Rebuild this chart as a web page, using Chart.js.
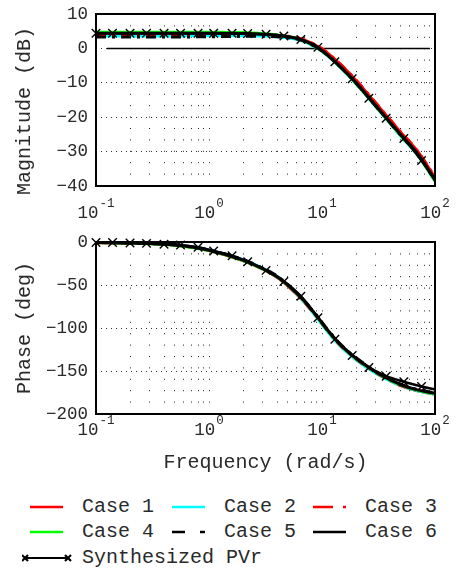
<!DOCTYPE html>
<html>
<head>
<meta charset="utf-8">
<script src="https://cdn.jsdelivr.net/npm/chart.js@4.4.1/dist/chart.umd.min.js"></script>
<style>
    body { margin: 0; background: #fff; width: 456px; height: 570px; overflow: hidden; position: relative; font-family: "Liberation Mono", monospace; }
    canvas { position: absolute; left: 0; }
    #mag { top: 0; }
    #phase { top: 228px; }
    .lg { position: absolute; height: 20px; font-size: 20px; line-height: 20px; color: #2a2a2a; white-space: pre; }
    .lg svg { position: absolute; left: 0; top: 0; }
    .lg span { position: absolute; top: 0; }
</style>
</head>
<body>
<canvas id="mag" width="456" height="228"></canvas>
<canvas id="phase" width="456" height="252"></canvas>
<div id="legend"></div>
<script>
// frequencies (rad/s) the six cases were read at
const caseFreq = [0.1, 0.2, 0.5, 1, 2, 3, 4, 5, 6, 7, 8, 9, 10, 12, 15, 20, 30, 40, 50, 70, 100];

// magnitude (dB)
const magCase1 = [3.9, 3.9, 3.9, 4.0, 4.0, 3.9, 3.7, 3.4, 3.0, 2.4, 1.6, 0.7, -0.2, -2.2, -5.1, -9.3, -16.0, -20.8, -24.5, -29.9, -37.5];
const magCase2 = [3.6, 3.6, 3.6, 3.7, 3.7, 3.6, 3.4, 3.0, 2.6, 2.0, 1.1, 0.1, -0.9, -3.0, -6.0, -10.3, -17.0, -21.8, -25.6, -31.0, -38.6];
const magCase3 = [4.0, 4.0, 4.0, 4.1, 4.1, 4.0, 3.8, 3.5, 3.1, 2.5, 1.7, 0.8, -0.1, -2.1, -5.0, -9.2, -15.9, -20.7, -24.4, -29.8, -37.4];
const magCase4 = [4.7, 4.7, 4.7, 4.7, 4.6, 4.3, 3.9, 3.4, 2.9, 2.1, 1.2, 0.2, -0.8, -2.9, -5.9, -10.2, -16.9, -21.7, -25.5, -30.9, -38.5];
const magCase5 = [3.3, 3.3, 3.3, 3.4, 3.5, 3.5, 3.4, 3.1, 2.7, 2.1, 1.2, 0.3, -0.7, -2.8, -5.8, -10.1, -16.8, -21.6, -25.3, -30.7, -38.3];
const magCase6 = [4.4, 4.4, 4.4, 4.4, 4.3, 4.1, 3.8, 3.4, 2.9, 2.2, 1.3, 0.3, -0.7, -2.8, -5.8, -10.0, -16.7, -21.5, -25.2, -30.6, -38.2];

// phase (deg)
const phaseCase1 = [-0.6, -1.2, -3.6, -9.8, -21.5, -31.5, -41, -51, -61, -70, -79, -87, -95, -108, -122, -136, -152, -161, -167, -173, -177];
const phaseCase2 = [-0.5, -1.1, -3.3, -9.2, -20.5, -30.5, -40, -50, -60.5, -70, -79.5, -88, -96, -109, -123, -137, -153, -161.5, -167, -173, -177];
const phaseCase3 = [-0.6, -1.2, -3.6, -9.8, -21.5, -31.5, -41, -51, -61, -70, -79, -87, -95, -108, -122, -136, -152, -161, -167, -172.5, -176.5];
const phaseCase4 = [-0.6, -1.3, -3.7, -10, -21.5, -31.5, -40.5, -50.5, -60, -69, -78, -86.5, -94.5, -107.5, -121.5, -135.5, -151.5, -160.5, -166.5, -172.5, -176.5];
const phaseCase5 = [-0.5, -1.1, -3.3, -9.2, -20.5, -30.5, -39.5, -49.5, -59.5, -68.5, -77.5, -85.5, -93.5, -106.5, -120.5, -134.5, -150.5, -159.5, -165.5, -171.5, -175.5];
const phaseCase6 = [-0.6, -1.2, -3.5, -9.5, -21, -31, -40, -50, -60, -69, -78, -86, -94, -107, -121, -135, -151, -160, -166, -172, -176];

// synthesized PVr (marker at every point but the last)
const synthFreq = [0.1, 0.14, 0.2, 0.28, 0.4, 0.56, 0.8, 1.1, 1.6, 2.2, 3.2, 4.6, 6.5, 9.2, 13, 18.5, 26, 37, 53, 76, 100];
const synthMag = [4.4, 4.4, 4.4, 4.4, 4.4, 4.4, 4.4, 4.4, 4.4, 4.3, 4.1, 3.6, 2.6, 0.3, -3.9, -8.8, -14.5, -20.3, -26.2, -32.6, -38.3];
const synthPhase = [-0.5, -0.7, -1.1, -1.6, -2.5, -3.6, -6, -10.5, -16, -23, -33, -46, -63, -88, -113, -132, -146, -156, -162.5, -168, -171.5];

// 0 dB reference line
const zeroLineFreq = [0.125, 90];
const zeroLineMag = [0, 0];

const caseLabels = ["Case 1", "Case 2", "Case 3", "Case 4", "Case 5", "Case 6"];
const synthLabel = "Synthesized PVr";
const decadePowers = [-1, 0, 1, 2];

const caseColors = ["#ff0000", "#00ffff", "#ff0000", "#00ff00", "#000000", "#000000"];
const caseDashes = [[], [], [10, 6, 3, 6], [], [10, 6, 3, 6], []];
const fontName = "'Liberation Mono', monospace";
const textColor = "#2a2a2a";

// log grid: 1..9 x 10^n
const gridFreq = [];
for (let p = -1; p < 2; p++) {
    for (let m = 1; m < 10; m++) gridFreq.push(m * Math.pow(10, p));
}
gridFreq.push(100);

function toPoints(xs, ys) {
    return xs.map(function (x, i) { return { x: x, y: ys[i] }; });
}

function caseSets(series) {
    return series.map(function (ys, i) {
        return {
            label: caseLabels[i],
            data: toPoints(caseFreq, ys),
            borderColor: caseColors[i],
            borderDash: caseDashes[i],
            borderWidth: 3,
            pointRadius: 0,
            cubicInterpolationMode: "monotone",
            order: 6 - i,
        };
    });
}

function synthSet(ys) {
    return {
        label: synthLabel,
        data: toPoints(synthFreq, ys),
        borderColor: "#000",
        borderWidth: 2.5,
        pointStyle: "crossRot",
        pointRadius: synthFreq.map(function (f, i) { return i < synthFreq.length - 1 ? 6 : 0; }),
        pointBorderWidth: 1.4,
        pointBorderColor: "#000",
        cubicInterpolationMode: "monotone",
        clip: 10,
        order: 0,
    };
}

// frame, tick labels and axis titles
const bodeText = {
    id: "bodeText",
    afterDraw(chart, args, opts) {
        const ctx = chart.ctx;
        const area = chart.chartArea;
        const xScale = chart.scales.x;
        const yScale = chart.scales.y;
        ctx.save();
        ctx.strokeStyle = "#000";
        ctx.lineWidth = 2;
        ctx.strokeRect(area.left, area.top, area.right - area.left, area.bottom - area.top);

        ctx.fillStyle = textColor;
        ctx.textBaseline = "middle";

        ctx.font = "17.5px " + fontName;
        ctx.textAlign = "right";
        yScale.ticks.forEach(function (t) {
            const py = yScale.getPixelForValue(t.value);
            ctx.fillText(String(t.value).replace("-", "\u2212"), area.left - 8, py);
        });

        ctx.textAlign = "left";
        decadePowers.forEach(function (p) {
            const px = xScale.getPixelForValue(Math.pow(10, p));
            const exp = String(p);
            ctx.font = "17.5px " + fontName;
            const baseW = ctx.measureText("10").width;
            ctx.font = "12.5px " + fontName;
            const expW = ctx.measureText(exp).width;
            const x0 = px - (baseW + 1 + expW) / 2;
            ctx.font = "17.5px " + fontName;
            ctx.fillText("10", x0, opts.tickY);
            ctx.font = "12.5px " + fontName;
            ctx.fillText(exp, x0 + baseW + 1, opts.tickY - 9);
        });

        ctx.font = "20px " + fontName;
        ctx.textAlign = "center";
        ctx.save();
        ctx.translate(opts.yTitleX, opts.yTitleY);
        ctx.rotate(-Math.PI / 2);
        ctx.fillText(opts.yTitle, 0, 0);
        ctx.restore();
        if (opts.xTitle) {
            ctx.fillText(opts.xTitle, (area.left + area.right) / 2, opts.xTitleY);
        }
        ctx.restore();
    },
};

function makeBode(id, datasets, yMin, yMax, yStep, xHeight, text) {
    const ctx = document.getElementById(id).getContext("2d");
    return new Chart(ctx, {
        type: "line",
        data: { datasets: datasets },
        plugins: [bodeText],
        options: {
            responsive: false,
            animation: false,
            layout: { autoPadding: false, padding: { top: 14, right: 21, left: 0, bottom: 0 } },
            plugins: {
                legend: { display: false },
                tooltip: { enabled: false },
                bodeText: text,
            },
            scales: {
                x: {
                    type: "logarithmic",
                    min: 0.1,
                    max: 100,
                    afterBuildTicks: function (scale) {
                        scale.ticks = gridFreq.map(function (v) { return { value: v }; });
                    },
                    afterFit: function (scale) { scale.height = xHeight; },
                    ticks: { display: false },
                    grid: { color: "#222", lineWidth: 1, drawTicks: false },
                    border: { display: false, dash: [1, 10.4] },
                },
                y: {
                    min: yMin,
                    max: yMax,
                    afterFit: function (scale) { scale.width = 96; },
                    ticks: { stepSize: yStep, display: false },
                    grid: { color: "#333", lineWidth: 1, drawTicks: false },
                    border: { display: false, dash: [1, 4] },
                },
            },
        },
    });
}

document.addEventListener("DOMContentLoaded", function () {
    const magSets = caseSets([magCase1, magCase2, magCase3, magCase4, magCase5, magCase6]);
    magSets.push(synthSet(synthMag));
    magSets.push({
        label: "0 dB",
        data: toPoints(zeroLineFreq, zeroLineMag),
        borderColor: "#000",
        borderWidth: 1.5,
        pointRadius: 0,
        order: 7,
    });
    makeBode("mag", magSets, -40, 10, 10, 42, {
        yTitle: "Magnitude (dB)", yTitleX: 25, yTitleY: 111, tickY: 213,
    });

    const phaseSets = caseSets([phaseCase1, phaseCase2, phaseCase3, phaseCase4, phaseCase5, phaseCase6]);
    phaseSets.push(synthSet(synthPhase));
    makeBode("phase", phaseSets, -200, 0, 50, 66, {
        yTitle: "Phase (deg)", yTitleX: 25, yTitleY: 100, tickY: 202,
        xTitle: "Frequency (rad/s)", xTitleY: 235,
    });

    // legend, 3 columns x 2 rows + synthesized row
    const legend = document.getElementById("legend");
    const colX = [30, 172, 313];
    const rowY = [507, 532];
    const sampleDash = ["", "", "20 10 5 100", "", "13 15 5 100", ""];
    caseLabels.forEach(function (label, i) {
        const div = document.createElement("div");
        div.className = "lg";
        div.style.left = colX[i % 3] + "px";
        div.style.top = (rowY[Math.floor(i / 3)] - 10) + "px";
        div.innerHTML =
            '<svg width="36" height="20"><line x1="0" y1="10" x2="33" y2="10" stroke="' + caseColors[i] +
            '" stroke-width="2.6" stroke-dasharray="' + sampleDash[i] + '"/></svg>' +
            '<span style="left:52px">' + label + "</span>";
        legend.appendChild(div);
    });
    const syn = document.createElement("div");
    syn.className = "lg";
    syn.style.left = "22px";
    syn.style.top = "548px";
    syn.innerHTML =
        '<svg width="52" height="20"><g stroke="#000" stroke-width="2.2">' +
        '<line x1="3" y1="10" x2="46" y2="10"/>' +
        '<line x1="0" y1="7" x2="6" y2="13"/><line x1="0" y1="13" x2="6" y2="7"/>' +
        '<line x1="43" y1="7" x2="49" y2="13"/><line x1="43" y1="13" x2="49" y2="7"/></g></svg>' +
        '<span style="left:60px">' + synthLabel + "</span>";
    legend.appendChild(syn);
});
</script>
</body>
</html>
